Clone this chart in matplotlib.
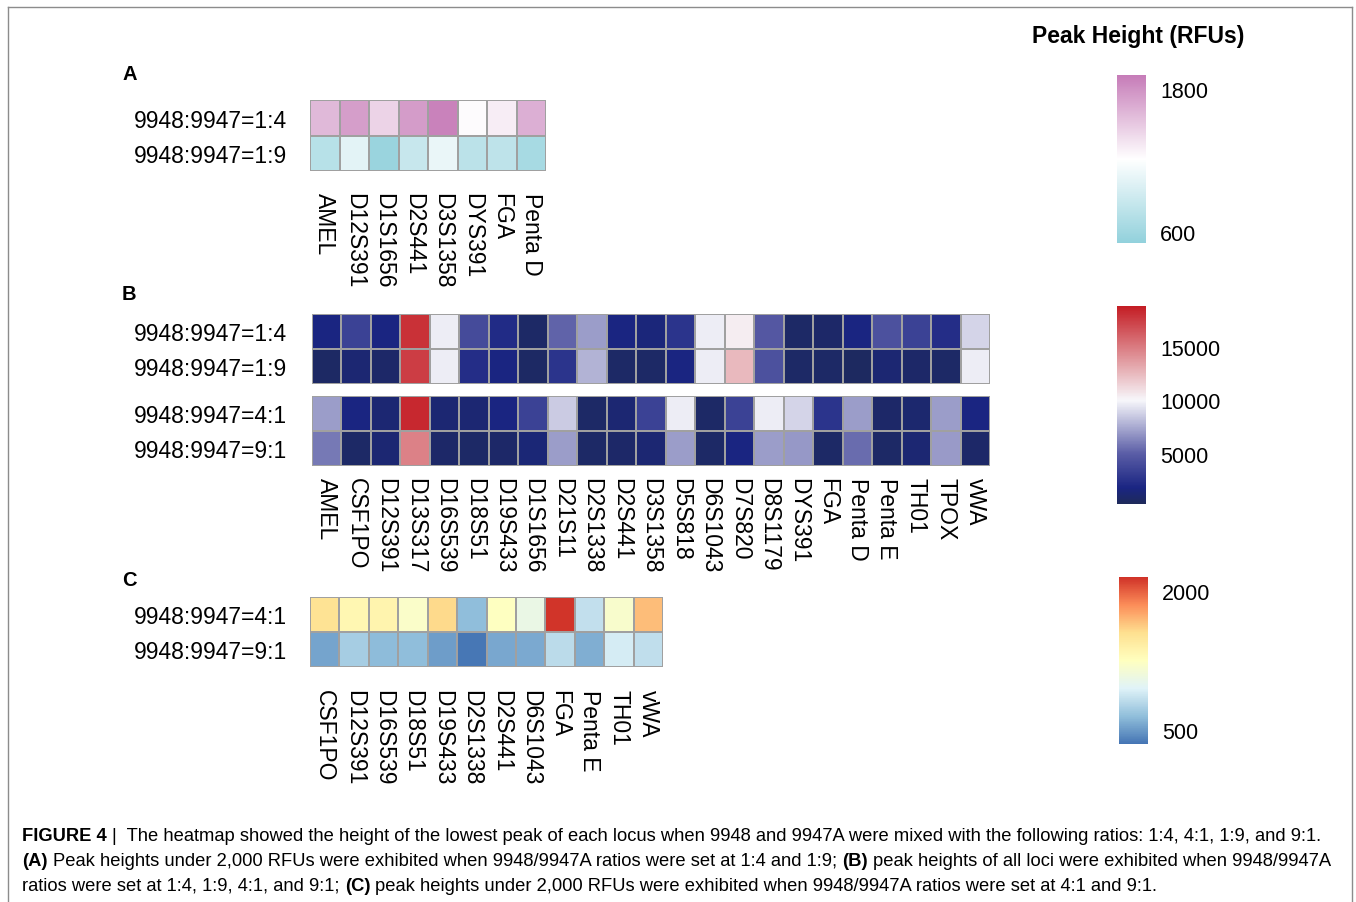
"""Heatmaps of the lowest peak height per locus for 9948/9947A mixtures."""
import numpy as np
import matplotlib
matplotlib.use("Agg")
import matplotlib.pyplot as plt
from matplotlib.colors import LinearSegmentedColormap, Normalize
from matplotlib.cm import ScalarMappable
from matplotlib.lines import Line2D

plt.rcParams["font.family"] = ["Liberation Sans", "DejaVu Sans"]

W, H = 1356, 903

# ---- panel A: loci below 2,000 RFU at 1:4 and 1:9
loci_a = ["AMEL", "D12S391", "D1S1656", "D2S441", "D3S1358", "DYS391", "FGA", "Penta D"]
rows_a = ["9948:9947=1:4", "9948:9947=1:9"]
rfu_a_14 = [1590, 1730, 1445, 1740, 1880, 1230, 1310, 1640]
rfu_a_19 = [747, 1035, 560, 850, 1075, 775, 790, 650]

# ---- panel B: all loci at every ratio
loci_b = ["AMEL", "CSF1PO", "D12S391", "D13S317", "D16S539", "D18S51", "D19S433",
          "D1S1656", "D21S11", "D2S1338", "D2S441", "D3S1358", "D5S818", "D6S1043",
          "D7S820", "D8S1179", "DYS391", "FGA", "Penta D", "Penta E", "TH01", "TPOX", "vWA"]
rows_b_top = ["9948:9947=1:4", "9948:9947=1:9"]
rows_b_bot = ["9948:9947=4:1", "9948:9947=9:1"]
rfu_b_14 = [1800, 3500, 1800, 18000, 9700, 4000, 2200, 800, 5200, 7100, 1800, 1500,
            2700, 9700, 10400, 4700, 800, 900, 1800, 4300, 3500, 2300, 8900]
rfu_b_19 = [700, 1200, 900, 17500, 9700, 2300, 1800, 700, 2700, 7800, 800, 800,
            1800, 9700, 12500, 4300, 800, 800, 600, 1200, 900, 800, 9700]
rfu_b_41 = [7100, 1800, 1200, 18300, 1200, 1200, 1800, 3500, 8600, 800, 1200, 3500,
            9700, 800, 3500, 9700, 8900, 2700, 7100, 900, 1100, 7100, 1800]
rfu_b_91 = [5900, 800, 1200, 14700, 900, 800, 900, 1400, 7100, 800, 900, 1200,
            7100, 800, 1800, 7100, 6900, 800, 5500, 800, 1200, 7000, 900]

# ---- panel C: loci below 2,000 RFU at 4:1 and 9:1
loci_c = ["CSF1PO", "D12S391", "D16S539", "D18S51", "D19S433", "D2S1338", "D2S441",
          "D6S1043", "FGA", "Penta E", "TH01", "vWA"]
rows_c = ["9948:9947=4:1", "9948:9947=9:1"]
rfu_c_41 = [1520, 1330, 1360, 1200, 1570, 650, 1240, 1050, 2140, 840, 1180, 1673]
rfu_c_91 = [545, 730, 640, 650, 515, 360, 557, 565, 810, 585, 910, 830]

ticks_a = [600, 1800]
ticks_b = [5000, 10000, 15000]
ticks_c = [500, 2000]

# colour scales
norm_a = Normalize(508, 1916)
cmap_a = LinearSegmentedColormap.from_list("a", ["#92d1dc", "#ffffff", "#c67cb8"])

norm_b = Normalize(330, 18800)
nodes_b = [(330, "#1e2a5a"), (1800, "#1a2582"), (5000, "#5a5da6"),
           (10000, "#f7f7fb"), (18800, "#c41d24")]
cmap_b = LinearSegmentedColormap.from_list(
    "b", [(float(norm_b(v)), c) for v, c in nodes_b])

norm_c = Normalize(349, 2151)
cmap_c = LinearSegmentedColormap.from_list(
    "c", ["#4575b4", "#91bfdb", "#e0f3f8", "#ffffbf", "#fee090", "#fc8d59", "#d03228"])

LABEL_SIZE = 16.5
EDGE = "#a0a0a0"

caption_lines = [
    [("FIGURE 4", True),
     ("|  The heatmap showed the height of the lowest peak of each locus when 9948 and "
      "9947A were mixed with the following ratios: 1:4, 4:1, 1:9, and 9:1.", False)],
    [("(A)", True),
     ("Peak heights under 2,000 RFUs were exhibited when 9948/9947A ratios were set at "
      "1:4 and 1:9;", False),
     ("(B)", True),
     ("peak heights of all loci were exhibited when 9948/9947A", False)],
    [("ratios were set at 1:4, 1:9, 4:1, and 9:1;", False),
     ("(C)", True),
     ("peak heights under 2,000 RFUs were exhibited when 9948/9947A ratios were set at "
      "4:1 and 9:1.", False)],
]


def px_axes(fig, x0, y0, x1, y1):
    return fig.add_axes([x0 / W, 1 - y1 / H, (x1 - x0) / W, (y1 - y0) / H])


def heatmap(ax, values, rows, cols, cmap, norm, ypad, xpad=None):
    data = np.asarray(values, dtype=float)
    ax.pcolormesh(data, cmap=cmap, norm=norm, edgecolors=EDGE, linewidth=1.3)
    ax.set_xlim(0, data.shape[1])
    ax.set_ylim(data.shape[0], 0)
    ax.set_yticks(np.arange(len(rows)) + 0.5, rows, fontsize=LABEL_SIZE)
    if cols is not None:
        ax.set_xticks(np.arange(len(cols)) + 0.5)
        ax.set_xticklabels(cols, rotation=270, ha="center", va="top", fontsize=LABEL_SIZE)
    else:
        ax.set_xticks([])
    ax.tick_params(length=0)
    ax.tick_params(axis="y", pad=ypad)
    if xpad is not None:
        ax.tick_params(axis="x", pad=xpad)
    for s in ax.spines.values():
        s.set_visible(False)


def colorbar(fig, rect, cmap, norm, ticks):
    cax = px_axes(fig, *rect)
    cb = fig.colorbar(ScalarMappable(norm=norm, cmap=cmap), cax=cax)
    cb.outline.set_visible(False)
    cb.set_ticks(ticks)
    cax.tick_params(length=0, pad=10, labelsize=15.5)


def text_width(fig, renderer, txt, size, bold=False):
    t = fig.text(0, 0, txt, fontsize=size, fontweight="bold" if bold else "normal")
    w = t.get_window_extent(renderer).width
    t.remove()
    return w


def line_width(fig, renderer, parts, size):
    space = text_width(fig, renderer, "a a", size) - text_width(fig, renderer, "aa", size)
    return sum(text_width(fig, renderer, t, size, b) for t, b in parts) + space * (len(parts) - 1)


def caption_line(fig, renderer, x, y, parts, size):
    space = text_width(fig, renderer, "a a", size) - text_width(fig, renderer, "aa", size)
    for txt, bold in parts:
        t = fig.text(x / W, 1 - y / H, txt, fontsize=size,
                     fontweight="bold" if bold else "normal", ha="left", va="baseline")
        x += t.get_window_extent(renderer).width + space


fig = plt.figure(figsize=(W / 100, H / 100), dpi=100)
fig.patch.set_facecolor("white")

# outer frame (open at the bottom)
frame = dict(color="#8c8c8c", lw=1.0, transform=fig.transFigure)
fig.add_artist(Line2D([8 / W, 8 / W], [0, 1 - 8 / H], **frame))
fig.add_artist(Line2D([8 / W, 1352 / W], [1 - 8 / H, 1 - 8 / H], **frame))
fig.add_artist(Line2D([1352 / W, 1352 / W], [0, 1 - 8 / H], **frame))

ax_a = px_axes(fig, 310, 101, 546, 172)
heatmap(ax_a, [rfu_a_14, rfu_a_19], rows_a, loci_a, cmap_a, norm_a, ypad=16.5, xpad=15)

ax_b1 = px_axes(fig, 312, 315, 990, 385)
heatmap(ax_b1, [rfu_b_14, rfu_b_19], rows_b_top, None, cmap_b, norm_b, ypad=18)
ax_b2 = px_axes(fig, 312, 397, 990, 467)
heatmap(ax_b2, [rfu_b_41, rfu_b_91], rows_b_bot, loci_b, cmap_b, norm_b, ypad=18, xpad=8)

ax_c = px_axes(fig, 310, 598, 663, 668)
heatmap(ax_c, [rfu_c_41, rfu_c_91], rows_c, loci_c, cmap_c, norm_c, ypad=16.5, xpad=16)

for letter, y in [("A", 74), ("B", 294), ("C", 581)]:
    fig.text(122 / W, 1 - y / H, letter, fontsize=14.5, fontweight="bold", ha="left", va="center")

fig.text(1138 / W, 1 - 37 / H, "Peak Height (RFUs)", fontsize=16.5, fontweight="bold",
         ha="center", va="center")

colorbar(fig, (1117, 76, 1146, 244), cmap_a, norm_a, ticks_a)
colorbar(fig, (1117, 307, 1146, 505), cmap_b, norm_b, ticks_b)
colorbar(fig, (1119, 578, 1148, 745), cmap_c, norm_c, ticks_c)

# caption: first line spans from x=22 to x=1322
renderer = fig.canvas.get_renderer()
cap_size = 15 * 1300 / line_width(fig, renderer, caption_lines[0], 15)
for parts, y in zip(caption_lines, [841, 866, 891]):
    caption_line(fig, renderer, 22, y, parts, cap_size)

fig.savefig("out.png", dpi=100)
